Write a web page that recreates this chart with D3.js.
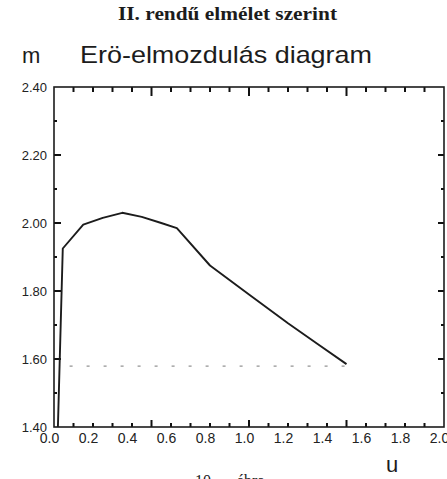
<!DOCTYPE html>
<html>
<head>
<meta charset="utf-8">
<script src="https://cdn.jsdelivr.net/npm/d3@7"></script>
<style>
  html, body { margin: 0; padding: 0; background: #fff; }
  svg { display: block; }
  .tick text { fill: #222; }
</style>
</head>
<body>
<svg id="chart" width="447" height="479"></svg>
<script>
// force (m) vs displacement (u)
const uValues = [0.02, 0.045, 0.15, 0.25, 0.35, 0.45, 0.55, 0.63, 0.8, 1.0, 1.2, 1.35, 1.5];
const mValues = [1.40, 1.925, 1.995, 2.015, 2.03, 2.018, 2.0, 1.985, 1.875, 1.79, 1.705, 1.645, 1.585];

// dashed reference level
const refLevel = 1.585;
const refFrom = 0.08;
const refTo = 1.5;

const xTickLabels = [0.0, 0.2, 0.4, 0.6, 0.8, 1.0, 1.2, 1.4, 1.6, 1.8, 2.0];
const yTickLabels = [1.40, 1.60, 1.80, 2.00, 2.20, 2.40];
const xMajor = [0.5, 1.0, 1.5];
const yMajor = [1.6, 1.8, 2.0, 2.2];

const ink = "#1c1c1c";

const svg = d3.select("#chart");

let x = d3.scaleLinear().domain([0, 2]).range([54, 444]);
let y = d3.scaleLinear().domain([1.4, 2.4]).range([427, 87]);

let x0 = x(0), x1 = x(2), yTop = y(2.4), yBot = y(1.4);

// minor ticks every 0.1 on all four sides, longer ones at the majors
let xMinor = d3.range(1, 20).map(d => d / 10);
let yMinor = d3.range(1, 10).map(d => +(1.4 + d / 10).toFixed(2));
let isXMajor = v => xMajor.some(m => Math.abs(m - v) < 1e-6);
let isYMajor = v => yMajor.some(m => Math.abs(m - v) < 1e-6);

let ticks = svg.append("g").attr("class", "frame-ticks");

function tickStyle(sel) {
  sel.attr("stroke", "#111").attr("stroke-width", 2);
}

// bottom, pointing up
ticks.selectAll("line.tb").data(xMinor).join("line").attr("class", "tb")
  .attr("x1", d => x(d)).attr("x2", d => x(d))
  .attr("y1", yBot).attr("y2", d => yBot - (isXMajor(d) ? 7 : 4))
  .call(tickStyle);
// top, pointing down
ticks.selectAll("line.tt").data(xMinor).join("line").attr("class", "tt")
  .attr("x1", d => x(d)).attr("x2", d => x(d))
  .attr("y1", yTop).attr("y2", d => yTop + (isXMajor(d) ? 9 : 5))
  .call(tickStyle);
// left, pointing right
ticks.selectAll("line.tl").data(yMinor).join("line").attr("class", "tl")
  .attr("y1", d => y(d)).attr("y2", d => y(d))
  .attr("x1", x0).attr("x2", d => x0 + (isYMajor(d) ? 7 : 3))
  .call(tickStyle);
// right, pointing left
ticks.selectAll("line.tr").data(yMinor).join("line").attr("class", "tr")
  .attr("y1", d => y(d)).attr("y2", d => y(d))
  .attr("x1", x1).attr("x2", d => x1 - (isYMajor(d) ? 6 : 3))
  .call(tickStyle);

// frame
svg.append("rect")
  .attr("x", x0).attr("y", yTop)
  .attr("width", x1 - x0).attr("height", yBot - yTop)
  .attr("fill", "none").attr("stroke", ink).attr("stroke-width", 1.6);

// tick labels
let xLab = svg.append("g").attr("transform", `translate(0,${yBot})`)
  .call(d3.axisBottom(x).tickValues(xTickLabels).tickSize(0).tickPadding(6).tickFormat(d3.format(".1f")));
xLab.select(".domain").remove();
xLab.selectAll("text").attr("dx", -5)
  .style("font-family", "'Liberation Sans', Arial, sans-serif").style("font-size", "14px");

let yLab = svg.append("g").attr("transform", `translate(${x0},0)`)
  .call(d3.axisLeft(y).tickValues(yTickLabels).tickSize(0).tickPadding(7).tickFormat(d3.format(".2f")));
yLab.select(".domain").remove();
yLab.selectAll("text")
  .style("font-family", "'Liberation Sans', Arial, sans-serif").style("font-size", "13px");

// dashed reference line
svg.append("line")
  .attr("x1", x(refFrom)).attr("x2", x(refTo))
  .attr("y1", y(refLevel) + 2).attr("y2", y(refLevel) + 2)
  .attr("stroke", "#777").attr("stroke-width", 1)
  .attr("stroke-dasharray", "3,14");

// the curve
let points = uValues.map((u, i) => [u, mValues[i]]);
let line = d3.line().x(d => x(d[0])).y(d => y(d[1]));
svg.append("path")
  .datum(points)
  .attr("d", line)
  .attr("fill", "none")
  .attr("stroke", ink)
  .attr("stroke-width", 1.9)
  .attr("stroke-linejoin", "round");

// titles and axis names
svg.append("text")
  .attr("x", 118).attr("y", 20)
  .attr("textLength", 219).attr("lengthAdjust", "spacingAndGlyphs")
  .style("font-family", "'Liberation Serif', 'DejaVu Serif', serif")
  .style("font-weight", "bold").style("font-size", "18px").style("fill", ink)
  .text("II. rendű elmélet szerint");

svg.append("text")
  .attr("x", 80).attr("y", 63)
  .attr("textLength", 292).attr("lengthAdjust", "spacingAndGlyphs")
  .style("font-family", "'Liberation Sans', Arial, sans-serif")
  .style("font-size", "24px").style("fill", ink)
  .text("Erö-elmozdulás diagram");

svg.append("text")
  .attr("x", 22).attr("y", 63)
  .style("font-family", "'Liberation Sans', Arial, sans-serif")
  .style("font-size", "22px").style("fill", ink)
  .text("m");

svg.append("text")
  .attr("x", 386).attr("y", 472)
  .style("font-family", "'Liberation Sans', Arial, sans-serif")
  .style("font-size", "22px").style("fill", ink)
  .text("u");

// figure caption, cut off by the page edge as in the scan
svg.append("text")
  .attr("x", 195).attr("y", 486)
  .style("font-family", "'Liberation Serif', serif")
  .style("font-size", "16px").style("fill", ink)
  .text("10.");
svg.append("text")
  .attr("x", 237).attr("y", 486)
  .style("font-family", "'Liberation Serif', serif")
  .style("font-size", "16px").style("fill", ink)
  .text("ábra");
</script>
</body>
</html>
